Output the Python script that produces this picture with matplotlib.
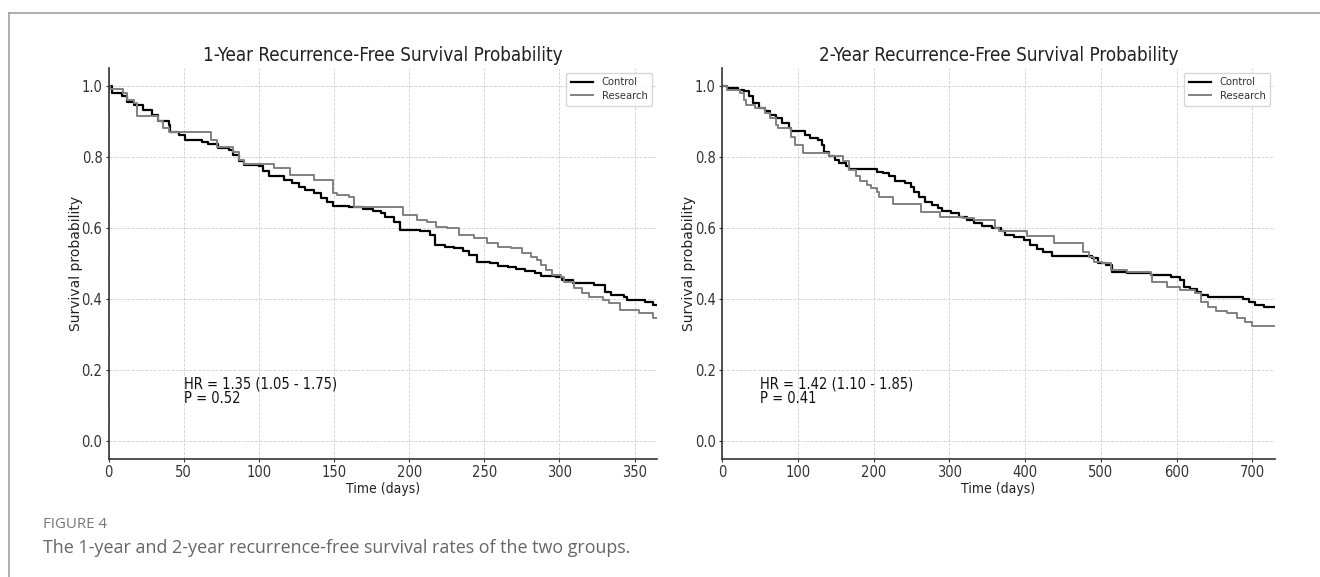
import numpy as np
import matplotlib
matplotlib.use('Agg')
from matplotlib import pyplot as plt
from matplotlib.lines import Line2D

# 1-year curves (time in days, survival probability after each step)
t1_control = [0, 2, 9, 12, 17, 23, 29, 33, 40, 41, 47, 51, 62, 66, 73, 80, 83, 87, 90,
              100, 103, 107, 117, 122, 127, 131, 137, 141, 145, 149, 160, 169, 176, 181,
              184, 190, 194, 207, 214, 217, 224, 230, 236, 240, 245, 254, 259, 266, 271,
              277, 284, 288, 298, 302, 309, 319, 323, 330, 334, 343, 345, 357, 362, 365]
s1_control = [1.0, 0.98, 0.97, 0.955, 0.946, 0.932, 0.918, 0.90, 0.89, 0.871, 0.862, 0.848,
              0.843, 0.837, 0.824, 0.82, 0.806, 0.787, 0.777, 0.773, 0.759, 0.745, 0.735,
              0.726, 0.716, 0.707, 0.698, 0.684, 0.674, 0.662, 0.66, 0.653, 0.649, 0.641,
              0.632, 0.618, 0.594, 0.59, 0.58, 0.552, 0.546, 0.543, 0.536, 0.524, 0.505,
              0.50, 0.494, 0.491, 0.484, 0.48, 0.472, 0.465, 0.461, 0.454, 0.446, 0.444,
              0.44, 0.421, 0.411, 0.407, 0.397, 0.392, 0.383, 0.383]
t1_research = [0, 1, 9.5, 12, 17, 19, 33, 36, 40, 68, 72, 83, 87, 90, 110, 121, 137, 149,
               152, 160, 163, 196, 205, 212, 218, 225, 233, 243, 252, 259, 268, 275, 281,
               285, 288, 291, 295, 301, 303, 310, 315, 320, 329, 333, 340, 353, 362, 365]
s1_research = [1.0, 0.99, 0.98, 0.96, 0.951, 0.914, 0.90, 0.88, 0.869, 0.848, 0.829, 0.815,
               0.792, 0.78, 0.768, 0.749, 0.735, 0.698, 0.693, 0.688, 0.658, 0.637, 0.623,
               0.618, 0.604, 0.599, 0.58, 0.571, 0.557, 0.547, 0.543, 0.529, 0.519, 0.51,
               0.496, 0.482, 0.468, 0.463, 0.449, 0.43, 0.416, 0.407, 0.397, 0.388, 0.369,
               0.36, 0.346, 0.346]

# 2-year curves
t2_control = [0, 7, 21, 29, 35, 41, 49, 57, 63, 71, 79, 88, 91, 110, 116, 127, 132, 135,
              141, 149, 154, 163, 168, 204, 213, 221, 229, 241, 249, 254, 260, 268, 277,
              285, 291, 302, 313, 324, 332, 343, 357, 368, 374, 385, 399, 407, 416, 424,
              435, 488, 496, 507, 515, 535, 566, 593, 604, 610, 618, 627, 632, 641, 688,
              696, 704, 716, 730]
s2_control = [1.0, 0.993, 0.989, 0.984, 0.97, 0.951, 0.937, 0.928, 0.918, 0.909, 0.895,
              0.881, 0.873, 0.862, 0.853, 0.848, 0.834, 0.815, 0.801, 0.792, 0.782, 0.773,
              0.766, 0.757, 0.754, 0.745, 0.731, 0.726, 0.716, 0.702, 0.688, 0.674, 0.665,
              0.655, 0.649, 0.641, 0.632, 0.623, 0.613, 0.606, 0.601, 0.59, 0.58, 0.574,
              0.566, 0.552, 0.54, 0.533, 0.522, 0.515, 0.50, 0.496, 0.477, 0.472, 0.468,
              0.461, 0.454, 0.435, 0.427, 0.421, 0.411, 0.407, 0.399, 0.392, 0.383, 0.378,
              0.378]
t2_research = [0, 7, 24, 29, 32, 43, 57, 63, 71, 74, 91, 96, 107, 141, 160, 168, 177, 182,
               191, 196, 204, 207, 226, 263, 288, 318, 332, 360, 366, 402, 438, 477, 485,
               491, 502, 513, 535, 566, 568, 588, 604, 624, 632, 641, 652, 666, 680, 691,
               699, 730]
s2_research = [1.0, 0.989, 0.979, 0.96, 0.946, 0.937, 0.923, 0.909, 0.89, 0.881, 0.857,
               0.834, 0.81, 0.801, 0.787, 0.763, 0.745, 0.731, 0.721, 0.712, 0.702, 0.688,
               0.668, 0.646, 0.632, 0.627, 0.623, 0.599, 0.59, 0.577, 0.557, 0.533, 0.519,
               0.505, 0.50, 0.482, 0.477, 0.468, 0.449, 0.435, 0.425, 0.416, 0.392, 0.378,
               0.367, 0.36, 0.346, 0.336, 0.324, 0.324]

titles = ['1-Year Recurrence-Free Survival Probability',
          '2-Year Recurrence-Free Survival Probability']
hr_text = ['HR = 1.35 (1.05 - 1.75)\nP = 0.52', 'HR = 1.42 (1.10 - 1.85)\nP = 0.41']
xmax = [365, 730]
xticks = [np.arange(0, 351, 50), np.arange(0, 701, 100)]
caption_label = 'FIGURE 4'
caption = 'The 1-year and 2-year recurrence-free survival rates of the two groups.'

cond = dict(family='DejaVu Sans', stretch='condensed')

fig = plt.figure(figsize=(13.2, 5.77), dpi=100)
axes = [fig.add_axes([0.0823, 0.2045, 0.4155, 0.6777]),
        fig.add_axes([0.547, 0.2045, 0.4189, 0.6777])]

curves = [((t1_control, s1_control), (t1_research, s1_research)),
          ((t2_control, s2_control), (t2_research, s2_research))]

for i, ax in enumerate(axes):
    (tc, sc), (tr, sr) = curves[i]
    ax.step(tc, sc, where='post', color='black', lw=1.6, label='Control')
    ax.step(tr, sr, where='post', color='#808080', lw=1.4, label='Research')
    ax.set_xlim(0, xmax[i])
    ax.set_ylim(-0.05, 1.05)
    ax.set_xticks(xticks[i])
    ax.set_yticks([0.0, 0.2, 0.4, 0.6, 0.8, 1.0])
    ax.grid(True, ls='--', lw=0.6, color='#d0d0d0')
    for s in ['top', 'right']:
        ax.spines[s].set_visible(False)
    for s in ['left', 'bottom']:
        ax.spines[s].set_color('#333333')
        ax.spines[s].set_linewidth(1.2)
    ax.tick_params(colors='#333333', labelsize=10.5, length=2, pad=2.5)
    for lab in ax.get_xticklabels() + ax.get_yticklabels():
        lab.set_fontstretch('condensed')
    ax.set_title(titles[i], fontsize=13.5, color='#222222', pad=5, **cond)
    ax.set_xlabel('Time (days)', fontsize=10, color='#222222', labelpad=1, **cond)
    ax.set_ylabel('Survival probability', fontsize=10, color='#222222', labelpad=-1)
    ax.text(50, 0.1, hr_text[i], fontsize=10.5, color='#111111', va='bottom',
            linespacing=0.95, **cond)
    leg = ax.legend(loc='upper right', fontsize=8, frameon=True, handlelength=2,
                    borderaxespad=0.45, labelspacing=0.35, edgecolor='#cccccc',
                    fancybox=True)
    for t in leg.get_texts():
        t.set_color('#333333')
        t.set_fontstretch('condensed')

# page frame and caption
fig.add_artist(Line2D([9 / 1320, 9 / 1320], [0, 1 - 13 / 577], transform=fig.transFigure,
                      color='#a0a0a0', lw=1.2))
fig.add_artist(Line2D([9 / 1320, 1], [1 - 13 / 577, 1 - 13 / 577], transform=fig.transFigure,
                      color='#a0a0a0', lw=1.2))
fig.text(43 / 1320, 1 - 525 / 577, caption_label, fontsize=10.8, color='#777777',
         va='center', family='Open Sans')
fig.text(43 / 1320, 1 - 548 / 577, caption, fontsize=12.9, color='#666666',
         va='center', family='Open Sans')

plt.savefig('out.png', dpi=100)
